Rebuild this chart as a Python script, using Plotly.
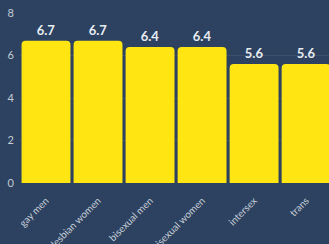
import plotly.graph_objects as go

categories = ["gay men", "lesbian women", "bisexual men", "bisexual women", "intersex", "trans"]
values = [6.7, 6.7, 6.4, 6.4, 5.6, 5.6]
y_ticks = [0, 2, 4, 6, 8]

bg = "#2c4260"
fig = go.Figure(go.Bar(
    x=categories, y=values,
    marker=dict(color="#ffe512", line=dict(width=0)),
    text=[f"{v:.1f}" for v in values],
    textposition="outside",
    textfont=dict(family="Lato", size=13, color="#e9edf2", weight="bold"),
    cliponaxis=False,
))
fig.update_layout(
    width=329, height=244,
    margin=dict(l=20, r=0, t=13, b=61),
    paper_bgcolor=bg, plot_bgcolor=bg,
    bargap=0.06, barcornerradius=4,
    showlegend=False,
    font=dict(family="Lato", color="#c5ccd6"),
)
fig.update_xaxes(
    range=[-0.5, 5.44], tickangle=-45, tickfont=dict(size=10),
    showgrid=False, showline=False, ticks="", automargin=False,
    ticklabelstandoff=9,
)
fig.update_yaxes(
    range=[0, 8], tickvals=y_ticks, tickfont=dict(size=11),
    showgrid=True, gridcolor="rgba(255,255,255,0.08)", gridwidth=1,
    zeroline=False, ticks="", ticklabelstandoff=5, automargin=False,
)
fig.write_html(
    "out.html",
    config={"displayModeBar": False},
    post_script="document.body.style.margin='0';document.body.style.overflow='hidden';document.body.style.background='" + bg + "';",
)
